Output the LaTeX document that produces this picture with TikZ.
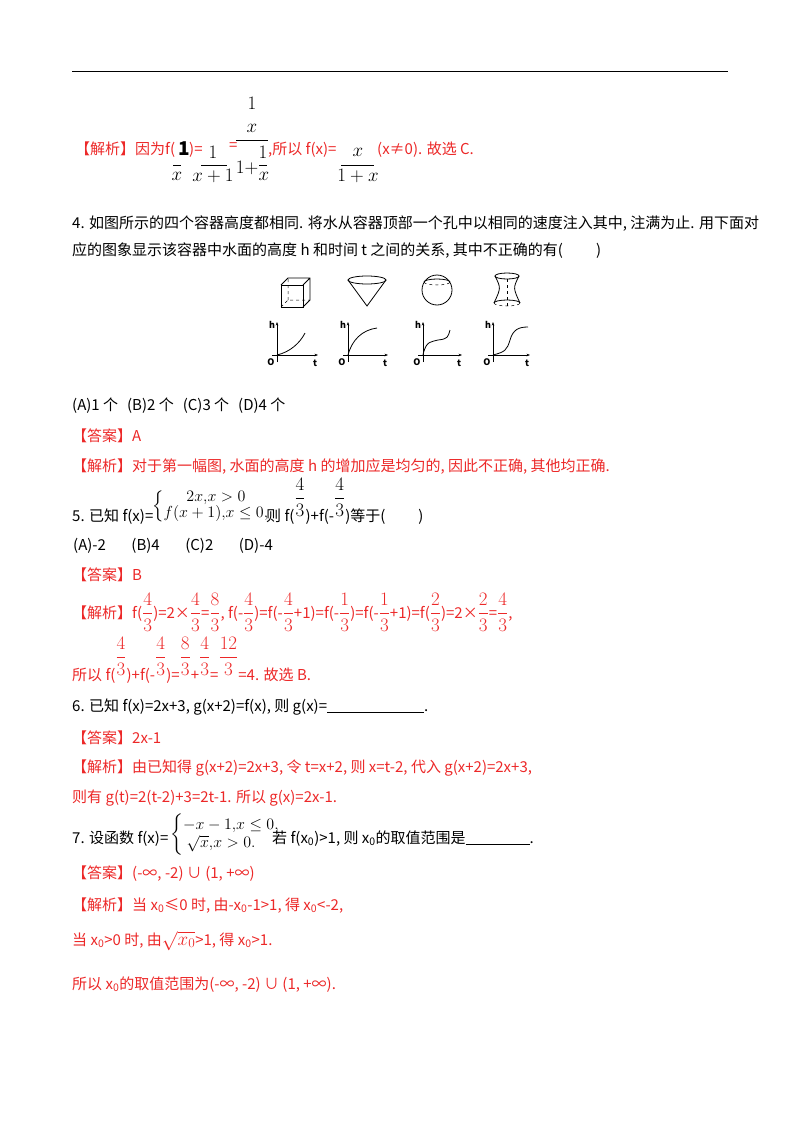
\RequirePackage{fix-cm}
\documentclass[tikz,border=0pt]{standalone}
\usepackage{fontspec}
\usepackage{amsmath}
\usetikzlibrary{arrows.meta}
\setmainfont{Noto Sans CJK SC}
\definecolor{rd}{RGB}{236,40,40}
\newcommand{\mfs}{\fontsize{19}{21}\selectfont}
\newcommand{\uf}[2]{\raisebox{2.2ex}{\mfs$\genfrac{}{}{0.5pt}{0}{#1}{#2}$}}
\newcommand{\df}[2]{{\mfs$\genfrac{}{}{0.5pt}{0}{#1}{#2}$}}
\begin{document}
\begin{tikzpicture}[x=1pt,y=-1pt,
  tx/.style={anchor=base west,inner sep=0pt,font=\fontsize{15}{17}\selectfont},
  rt/.style={tx,text=rd},
  mx/.style={inner sep=0pt,font=\fontsize{19}{21}\selectfont},
  bx/.style={inner sep=0pt,anchor=west,font=\fontsize{16}{18}\selectfont},
  ax/.style={line width=0.7pt,-{Stealth[length=3.5pt]}},
  cv/.style={line width=0.8pt}]
\useasboundingbox (0,0) rectangle (800,1132);
\draw[line width=0.8pt] (72,71) -- (728,71);
% line 1
\node[rt] (l1a) at (75,154) {【解析】因为f(};
\node[mx] (l1b) at (184,149) {$\mathbf{1}$};
\node[rt] (l1c) at (189,154) {)=};
\node[mx] (l1d) at (177,176) {$x$};
\draw (173,165) -- (181,165);
\node[mx] (l1e) at (213,152) {$1$};
\draw (201,165) -- (227,165);
\node[mx] (l1f) at (213,176) {$x+1$};
\node[rt] (l1g) at (229,150) {=};
\node[mx] (l1h) at (252,103) {$1$};
\node[mx] (l1i) at (252,128) {$x$};
\draw (236,140) -- (268,140);
\node[mx] (l1j) at (247,168) {$1+$};
\node[mx] (l1k) at (263,152) {$1$};
\draw (259,165) -- (267,165);
\node[mx] (l1l) at (264,176) {$x$};
\node[rt] (l1m) at (268,154) {,所以 f(x)=};
\node[mx] (l1n) at (358,152) {$x$};
\draw (341,165) -- (374,165);
\node[mx] (l1o) at (358,176) {$1+x$};
\node[rt] (l1p) at (377,154) {(x≠0). 故选 C.};
% Q4
\node[tx] (q4a) at (72,228) {4. 如图所示的四个容器高度都相同. 将水从容器顶部一个孔中以相同的速度注入其中, 注满为止. 用下面对};
\node[tx] (q4b) at (72,255) {应的图象显示该容器中水面的高度 h 和时间 t 之间的关系, 其中不正确的有(\hspace{2.2em})};
% containers
\begin{scope}[line width=0.8pt]
\draw (281,285) rectangle (303,307);
\draw (303,307) -- (310,300) -- (310,278) -- (288,278) -- (281,285) (303,285) -- (310,278);
\draw[dashed,line width=0.5pt] (281,307) -- (288,300) -- (310,300) (288,300) -- (288,278);
\draw (367,280) ellipse (19 and 4);
\draw (348,280) -- (367,306) -- (386,280);
\draw (437,290) circle (15);
\draw (424,282) arc (180:360:13 and 3);
\draw[dashed,line width=0.5pt] (424,282) arc (180:0:13 and 3);
\draw (507,276) ellipse (12 and 3);
\draw (495,276) .. controls (501,288) .. (494,303);
\draw (519,276) .. controls (513,288) .. (520,303);
\draw (494,303) arc (180:360:13 and 3);
\draw[dashed,line width=0.5pt] (494,303) arc (180:0:13 and 3);
\draw[dashed,line width=0.5pt] (507,279) -- (507,306);
\end{scope}
% graphs
\foreach \ox/\tx in {277/318,348/388,423/462,493/530}{
  \draw[ax] (\ox-5,355) -- (\tx,355);
  \draw[ax] (\ox,362) -- (\ox,322);
  \node[font=\bfseries\itshape\fontsize{9}{9}\selectfont,inner sep=0pt] at (\ox-5,325) {h};
  \node[font=\bfseries\itshape\fontsize{9}{9}\selectfont,inner sep=0pt] at (\ox-6,362) {O};
  \node[font=\bfseries\itshape\fontsize{9}{9}\selectfont,inner sep=0pt] at (\tx-3,363) {t};
}
\draw[cv] (277,355) .. controls (290,352) and (300,343) .. (305,333);
\draw[cv] (348,355) .. controls (352,340) and (362,330) .. (377,328);
\draw[cv] (423,355) .. controls (426,340) and (432,342) .. (438,340) .. controls (448,339) and (448,337) .. (450,330);
\draw[cv] (493,355) .. controls (505,352) and (507,350) .. (510,340) .. controls (513,330) and (518,327) .. (528,327);
% answers Q4
\node[tx] (q4c) at (72,410) {(A)1 个\hspace{0.6em}(B)2 个\hspace{0.6em}(C)3 个\hspace{0.6em}(D)4 个};
\node[rt] (q4d) at (72,441) {【答案】A};
\node[rt] (q4e) at (72,471) {【解析】对于第一幅图, 水面的高度 h 的增加应是均匀的, 因此不正确, 其他均正确.};
% Q5
\node[tx] (q5a) at (72,521) {5. 已知 f(x)=};
\node[bx] (q5b) at (152,506) {$\left\{\begin{array}{@{}c@{}}2x{,}x>0\\[-2pt] f(x+1){,}x\leq 0{,}\end{array}\right.$};
\node[tx] (q5c) at (266,521) {则 f(\uf{4}{3})+f(-\uf{4}{3})等于(\hspace{2.2em})};
\node[tx] (q5d) at (73,550) {(A)-2\hspace{1.7em}(B)4\hspace{1.7em}(C)2\hspace{1.7em}(D)-4};
\node[rt] (q5e) at (72,580) {【答案】B};
\node[rt] (q5f) at (72,618) {【解析】f(\df43)=2×\df43=\df83, f(-\df43)=f(-\df43+1)=f(-\df13)=f(-\df13+1)=f(\df23)=2×\df23=\df43,};
\node[rt] (q5g) at (72,680) {所以 f(\uf{4}{3})+f(-\uf{4}{3})=\uf{8}{3}+\uf{4}{3}=\uf{12}{3}=4. 故选 B.};
% Q6
\node[tx] (q6a) at (72,711) {6. 已知 f(x)=2x+3, g(x+2)=f(x), 则 g(x)=\rule[-1.5pt]{97pt}{0.6pt}.};
\node[rt] (q6b) at (72,743) {【答案】2x-1};
\node[rt] (q6c) at (72,772) {【解析】由已知得 g(x+2)=2x+3, 令 t=x+2, 则 x=t-2, 代入 g(x+2)=2x+3,};
\node[rt] (q6d) at (72,802) {则有 g(t)=2(t-2)+3=2t-1. 所以 g(x)=2x-1.};
% Q7
\node[tx] (q7a) at (72,843) {7. 设函数 f(x)=};
\node[bx] (q7b) at (170,835) {$\left\{\begin{array}{@{}l@{}}-x-1{,}x\leq 0{,}\\ \ \sqrt{x}{,}x>0.\end{array}\right.$};
\node[tx] (q7c) at (272,843) {若 f(x\textsubscript{0})>1, 则 x\textsubscript{0}的取值范围是\rule[-1.5pt]{64pt}{0.6pt}.};
\node[rt] (q7d) at (72,878) {【答案】(-∞, -2) ∪ (1, +∞)};
\node[rt] (q7e) at (72,910) {【解析】当 x\textsubscript{0}≤0 时, 由-x\textsubscript{0}-1>1, 得 x\textsubscript{0}<-2,};
\node[rt] (q7f) at (72,945) {当 x\textsubscript{0}>0 时, 由{\mfs$\sqrt{x_0}$}>1, 得 x\textsubscript{0}>1.};
\node[rt] (q7g) at (72,989) {所以 x\textsubscript{0}的取值范围为(-∞, -2) ∪ (1, +∞).};
\end{tikzpicture}
\end{document}
